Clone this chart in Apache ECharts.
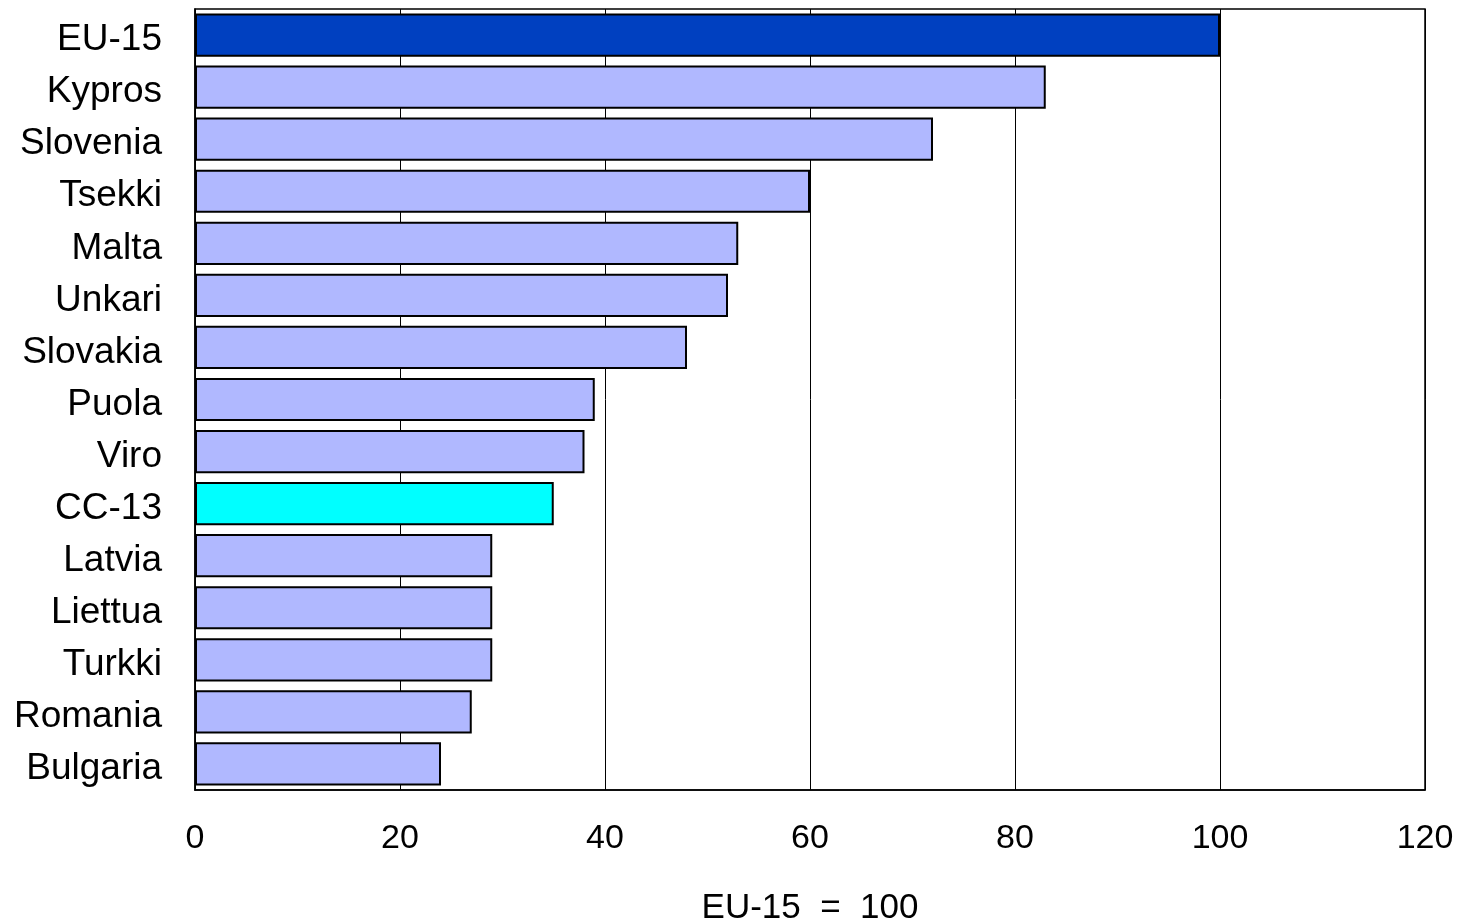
<!DOCTYPE html>
<html><head><meta charset="utf-8">
<script src="https://cdn.jsdelivr.net/npm/echarts@6/dist/echarts.min.js"></script>
<style>html,body{margin:0;padding:0;background:#fff}#c{width:1457px;height:924px}</style>
</head><body><div id="c"></div>
<script>
const categories = ['EU-15','Kypros','Slovenia','Tsekki','Malta','Unkari','Slovakia','Puola','Viro','CC-13','Latvia','Liettua','Turkki','Romania','Bulgaria'];
const values = [100,83,72,60,53,52,48,39,38,35,29,29,29,27,24];
const xTicks = [0,20,40,60,80,100,120];
const xAxisTitle = 'EU-15  =  100';
const barColors = {'EU-15':'#0040C0','CC-13':'#00FFFF'};
const defaultColor = '#B0B8FF';

const chart = echarts.init(document.getElementById('c'));
chart.setOption({
  animation:false,
  grid:{left:195,right:32,top:9,bottom:134,outerBoundsMode:'none',containLabel:false,show:true,borderColor:'#000',borderWidth:1.5,backgroundColor:'transparent'},
  xAxis:{type:'value',min:xTicks[0],max:xTicks[xTicks.length-1],interval:20,
    name:xAxisTitle,nameLocation:'middle',nameGap:101,
    nameTextStyle:{fontFamily:'Liberation Sans',fontSize:35,color:'#000'},
    axisLine:{show:true,lineStyle:{color:'#000',width:1.5}},
    axisTick:{show:false},
    axisLabel:{fontFamily:'Liberation Sans',fontSize:34,color:'#000',margin:32},
    splitLine:{show:true,lineStyle:{color:'#000',width:1}}},
  yAxis:{type:'category',inverse:true,data:categories,
    axisLine:{show:true,lineStyle:{color:'#000',width:1.5}},
    axisTick:{show:false},
    axisLabel:{fontFamily:'Liberation Sans',fontSize:37,color:'#000',margin:33,verticalAlign:'top',lineHeight:10}},
  series:[{type:'bar',barCategoryGap:'17%',
    data:values.map((v,i)=>({value:v,itemStyle:{color:barColors[categories[i]]||defaultColor}})),
    itemStyle:{borderColor:'#000',borderWidth:2}}]
});
</script></body></html>
